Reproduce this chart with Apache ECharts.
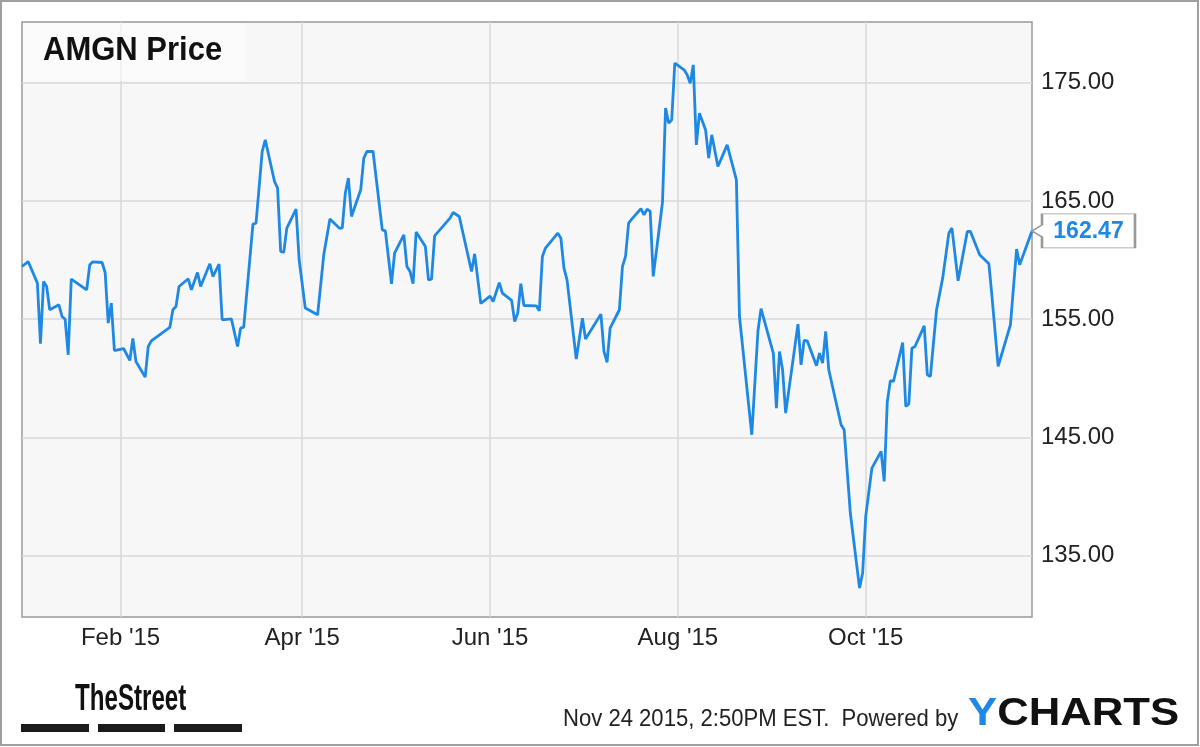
<!DOCTYPE html>
<html><head><meta charset="utf-8">
<script src="https://cdn.jsdelivr.net/npm/echarts@6/dist/echarts.min.js"></script>
<style>html,body{margin:0;padding:0;background:#fff}#c{width:1200px;height:747px}</style>
</head><body><div id="c"></div>
<script>
const dates = ['2014-12-31','2015-01-02','2015-01-05','2015-01-06','2015-01-07','2015-01-08','2015-01-09','2015-01-12','2015-01-13','2015-01-14','2015-01-15','2015-01-16','2015-01-21','2015-01-22','2015-01-23','2015-01-26','2015-01-27','2015-01-28','2015-01-29','2015-01-30',
'2015-02-02','2015-02-04','2015-02-05','2015-02-06','2015-02-09','2015-02-10','2015-02-11','2015-02-17','2015-02-18','2015-02-19','2015-02-20','2015-02-23','2015-02-24','2015-02-26','2015-02-27',
'2015-03-02','2015-03-03','2015-03-05','2015-03-06','2015-03-09','2015-03-11','2015-03-12','2015-03-13','2015-03-16','2015-03-17','2015-03-19','2015-03-20','2015-03-23','2015-03-24','2015-03-25','2015-03-26','2015-03-27','2015-03-30','2015-03-31',
'2015-04-02','2015-04-06','2015-04-08','2015-04-10','2015-04-13','2015-04-14','2015-04-15','2015-04-16','2015-04-17','2015-04-20','2015-04-21','2015-04-22','2015-04-24','2015-04-27','2015-04-28','2015-04-30',
'2015-05-01','2015-05-04','2015-05-05','2015-05-06','2015-05-07','2015-05-08','2015-05-11','2015-05-12','2015-05-13','2015-05-14','2015-05-19','2015-05-20','2015-05-22','2015-05-26','2015-05-27','2015-05-29',
'2015-06-01','2015-06-02','2015-06-04','2015-06-05','2015-06-08','2015-06-09','2015-06-10','2015-06-11','2015-06-12','2015-06-16','2015-06-17','2015-06-18','2015-06-19','2015-06-23','2015-06-24','2015-06-25','2015-06-26','2015-06-29',
'2015-07-01','2015-07-02','2015-07-07','2015-07-08','2015-07-09','2015-07-10','2015-07-13','2015-07-14','2015-07-15','2015-07-16','2015-07-17','2015-07-20','2015-07-21','2015-07-22','2015-07-23','2015-07-24','2015-07-27','2015-07-28','2015-07-29','2015-07-30','2015-07-31',
'2015-08-03','2015-08-04','2015-08-05','2015-08-06','2015-08-07','2015-08-08','2015-08-10','2015-08-11','2015-08-12','2015-08-14','2015-08-17','2015-08-20','2015-08-21','2015-08-25','2015-08-27','2015-08-28',
'2015-09-01','2015-09-02','2015-09-03','2015-09-04','2015-09-05','2015-09-09','2015-09-10','2015-09-11','2015-09-12','2015-09-15','2015-09-16','2015-09-17','2015-09-18','2015-09-19','2015-09-23','2015-09-24','2015-09-26','2015-09-29','2015-09-30',
'2015-10-01','2015-10-03','2015-10-06','2015-10-07','2015-10-08','2015-10-09','2015-10-10','2015-10-13','2015-10-14','2015-10-15','2015-10-16','2015-10-17','2015-10-20','2015-10-21','2015-10-22','2015-10-24','2015-10-26','2015-10-28','2015-10-29','2015-10-31',
'2015-11-03','2015-11-04','2015-11-07','2015-11-10','2015-11-11','2015-11-13','2015-11-17','2015-11-19','2015-11-20','2015-11-24'];
const prices = [159.46,159.88,158.05,152.92,158.19,157.77,155.80,156.22,155.23,155.00,151.99,158.39,157.49,159.60,159.86,159.80,158.95,154.67,156.36,152.35,
152.52,151.51,153.37,151.42,150.10,152.69,153.17,154.30,155.80,156.07,157.77,158.42,157.49,158.95,157.77,
159.69,158.61,159.66,154.95,155.03,152.69,154.24,154.33,163.05,163.13,169.19,170.18,166.65,166.09,160.73,160.65,162.71,164.31,160.03,
155.94,155.37,160.45,163.47,162.71,162.71,165.67,166.94,163.69,165.95,168.63,169.19,169.19,162.56,162.48,158.00,
160.59,162.14,159.46,159.04,158.00,162.37,161.15,158.33,158.39,162.05,163.55,164.03,163.69,159.04,160.53,156.33,
156.95,156.50,158.10,157.21,156.59,154.81,155.52,158.00,156.16,156.13,155.71,160.31,161.02,162.28,161.86,159.32,158.33,151.62,
155.09,153.32,155.43,152.27,151.34,154.24,155.80,159.46,160.31,163.13,163.47,164.35,163.83,164.31,164.12,158.62,164.90,172.86,171.59,171.87,176.67,
176.10,175.68,174.97,176.52,169.75,172.43,171.02,168.63,170.60,167.92,169.75,166.79,155.23,145.22,154.00,155.90,
152.10,147.48,152.27,150.72,147.05,154.58,151.14,153.20,153.17,151.06,152.13,151.29,153.96,150.72,146.07,145.64,138.60,132.25,133.52,
138.32,142.40,143.81,141.27,148.00,149.80,149.73,153.03,147.62,147.84,152.55,152.69,154.44,150.30,150.16,155.80,158.48,162.28,162.71,158.25,
162.42,162.42,160.45,159.69,156.93,151.01,154.53,160.93,159.60,162.47];
const xTickDates = ['2015-02-01','2015-04-01','2015-06-01','2015-08-01','2015-10-01'];
const xTickLabels = ["Feb '15","Apr '15","Jun '15","Aug '15","Oct '15"];
const yTicks = [135,145,155,165,175];
const titleText = 'AMGN Price';
const footerText = 'Nov 24 2015, 2:50PM EST.  Powered by';

function toTs(s){const p=s.split('-').map(Number);return Date.UTC(p[0],p[1]-1,p[2]);}
const xTickTs = xTickDates.map(toTs);
const seriesData = dates.map((d,i)=>[toTs(d), prices[i]]);
const last = seriesData[seriesData.length-1];
const FONT = '"Liberation Sans", Arial, Helvetica, sans-serif';
const BLUE = '#1e88e5';

const chart = echarts.init(document.getElementById('c'), null, {renderer:'canvas'});
chart.setOption({
  animation:false,
  backgroundColor:'#fff',
  grid:{left:22, right:168, top:22, bottom:130, show:true, backgroundColor:'#f7f7f7', borderColor:'#999', borderWidth:1.5},
  xAxis:{
    type:'value', min:toTs('2014-12-31'), max:toTs('2015-11-24'),
    axisLine:{show:false}, axisTick:{show:false, customValues:xTickTs},
    axisLabel:{customValues:xTickTs, margin:9, fontSize:24, color:'#222', fontFamily:FONT,
      formatter:(v)=>{const i=xTickTs.indexOf(v);return i>=0?xTickLabels[i]:'';}},
    splitLine:{show:true, lineStyle:{color:'#d9d9d9', width:1.5}}
  },
  yAxis:{
    type:'value', position:'right', min:129.8, max:180.15, scale:true,
    axisLine:{show:false}, axisTick:{show:false, customValues:yTicks},
    axisLabel:{customValues:yTicks, margin:9, fontSize:24, color:'#222', fontFamily:FONT,
      formatter:(v)=>Number(v).toFixed(2)},
    splitLine:{show:true, lineStyle:{color:'#d9d9d9', width:1.5}}
  },
  series:[{
    type:'line', data:seriesData, showSymbol:false, symbol:'none',
    lineStyle:{color:BLUE, width:2.8}, z:3,
    markPoint:{
      silent:true,
      symbol:'path://M0,17 L10,11 L10,0 L103,0 L103,34 L10,34 L10,23 Z',
      symbolSize:[103,34], symbolOffset:[51.5,0], symbolKeepAspect:false,
      itemStyle:{color:'#fff', borderColor:'#999', borderWidth:1.5},
      label:{show:true, position:'inside', offset:[5,1], color:BLUE, fontWeight:'bold', fontSize:23, fontFamily:FONT,
        formatter:(p)=>Number(p.value).toFixed(2)},
      data:[{coord:last, value:last[1]}]
    }
  }],
  graphic:[
    {type:'rect', shape:{x:1,y:1,width:1197,height:744}, style:{fill:'none', stroke:'#a0a0a0', lineWidth:2}, z:0, silent:true},
    {type:'rect', shape:{x:23,y:23,width:222,height:58}, style:{fill:'rgba(255,255,255,0.55)'}, z:1, silent:true},
    {type:'text', x:43, y:51, style:{text:titleText, font:'bold 31px '+FONT, fill:'#111', textVerticalAlign:'middle'}, scaleY:1.08, z:5, silent:true},
    {type:'text', x:75, y:700, scaleX:0.67, style:{text:'TheStreet', font:'bold 36px '+FONT, fill:'#111', textVerticalAlign:'middle'}, z:5, silent:true},
    {type:'rect', shape:{x:21,y:724,width:68,height:8}, style:{fill:'#1a1a1a'}, silent:true},
    {type:'rect', shape:{x:98,y:724,width:67,height:8}, style:{fill:'#1a1a1a'}, silent:true},
    {type:'rect', shape:{x:174,y:724,width:68,height:8}, style:{fill:'#1a1a1a'}, silent:true},
    {type:'text', x:563, y:719, scaleX:0.92, style:{text:footerText, font:'24px '+FONT, fill:'#222', textVerticalAlign:'middle'}, silent:true},
    {type:'text', x:968, y:714, scaleX:1.12, style:{
      text:'{y|Y}{c|CHARTS}', textVerticalAlign:'middle',
      rich:{y:{fill:BLUE, font:'bold 39px '+FONT}, c:{fill:'#111', font:'bold 39px '+FONT}}}, silent:true}
  ]
});
</script></body></html>
